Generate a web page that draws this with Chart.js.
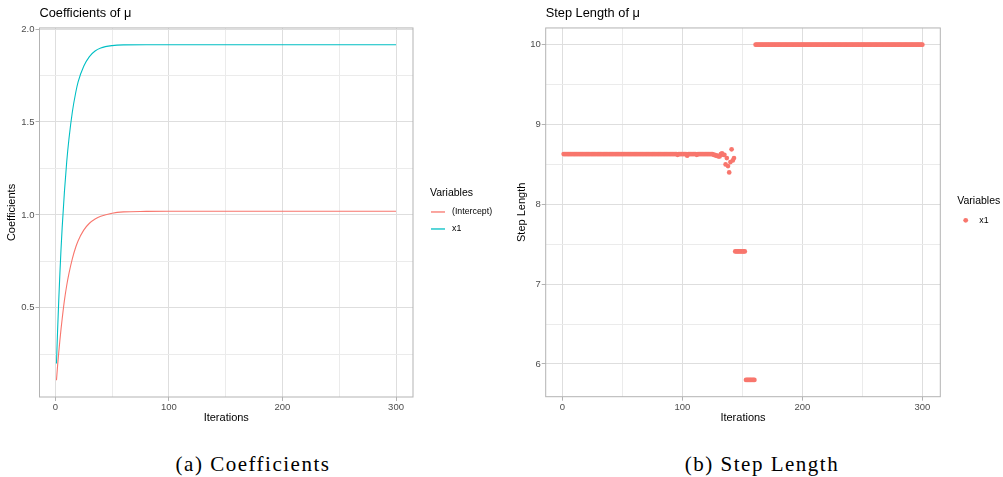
<!DOCTYPE html>
<html>
<head>
<meta charset="utf-8">
<title>Coefficients and Step Length of μ</title>
<script src="https://cdn.jsdelivr.net/npm/chart.js@4.4.1/dist/chart.umd.min.js"></script>
<style>
  body { margin: 0; background: #fff; width: 1003px; height: 477px; overflow: hidden; position: relative; }
  canvas { position: absolute; top: 0; }
  #coefChart { left: 0; }
  #stepChart { left: 500px; }
  .caption { position: absolute; top: 452px; font-family: "Liberation Serif", serif; font-size: 21px; color: #000;
             transform: translateX(-50%); white-space: nowrap; letter-spacing: 1.5px; }
</style>
</head>
<body>
<canvas id="coefChart" width="500" height="430"></canvas>
<canvas id="stepChart" width="503" height="430"></canvas>
<div class="caption" style="left:253px">(a) Coefficients</div>
<div class="caption" style="left:762px">(b) Step Length</div>
<script>
// --- data ---
const coefIter = [1, 2, 3, 4, 5, 6, 8, 10, 12, 15, 18, 20, 25, 30, 35, 40, 50, 60, 80, 100, 150, 200, 250, 300];
const interceptVals = [0.11, 0.19, 0.26, 0.325, 0.385, 0.44, 0.54, 0.62, 0.685, 0.765, 0.827, 0.86, 0.918, 0.955, 0.978, 0.993, 1.009, 1.016, 1.019, 1.02, 1.02, 1.02, 1.02, 1.02];
const x1Vals = [0.20, 0.38, 0.54, 0.685, 0.815, 0.93, 1.125, 1.285, 1.41, 1.555, 1.66, 1.715, 1.80, 1.852, 1.882, 1.898, 1.911, 1.915, 1.916, 1.916, 1.916, 1.916, 1.916, 1.916];

// step length of x1, one value per iteration 1..300
const stepVals = [
  8.63, 8.63, 8.63, 8.63, 8.63, 8.63, 8.63, 8.63, 8.63, 8.63, 8.63, 8.63, 8.63, 8.63, 8.63, 8.63, 8.63, 8.63, 8.63, 8.63,
  8.63, 8.63, 8.63, 8.63, 8.63, 8.63, 8.63, 8.63, 8.63, 8.63, 8.63, 8.63, 8.63, 8.63, 8.63, 8.63, 8.63, 8.63, 8.63, 8.63,
  8.63, 8.63, 8.63, 8.63, 8.63, 8.63, 8.63, 8.63, 8.63, 8.63, 8.63, 8.63, 8.63, 8.63, 8.63, 8.63, 8.63, 8.63, 8.63, 8.63,
  8.63, 8.63, 8.63, 8.63, 8.63, 8.63, 8.63, 8.63, 8.63, 8.63, 8.63, 8.63, 8.63, 8.63, 8.63, 8.63, 8.63, 8.63, 8.63, 8.63,
  8.63, 8.63, 8.63, 8.63, 8.63, 8.63, 8.63, 8.63, 8.63, 8.63, 8.63, 8.63, 8.63, 8.63, 8.63, 8.62, 8.63, 8.63, 8.63, 8.63,
  8.63, 8.63, 8.63, 8.61, 8.63, 8.63, 8.63, 8.63, 8.63, 8.63, 8.63, 8.62, 8.63, 8.63, 8.63, 8.63, 8.63, 8.63, 8.63, 8.63,
  8.63, 8.63, 8.63, 8.63, 8.63, 8.62, 8.62, 8.61, 8.61, 8.60, 8.60, 8.63, 8.64, 8.62, 8.62, 8.50, 8.58, 8.48, 8.40, 8.53,
  8.69, 8.55, 8.58, 7.41, 7.41, 7.41, 7.41, 7.41, 7.41, 7.41, 7.41, 7.41, 5.80, 5.80, 5.80, 5.80, 5.80, 5.80, 5.80, 5.80,
  10, 10, 10, 10, 10, 10, 10, 10, 10, 10, 10, 10, 10, 10, 10, 10, 10, 10, 10, 10,
  10, 10, 10, 10, 10, 10, 10, 10, 10, 10, 10, 10, 10, 10, 10, 10, 10, 10, 10, 10,
  10, 10, 10, 10, 10, 10, 10, 10, 10, 10, 10, 10, 10, 10, 10, 10, 10, 10, 10, 10,
  10, 10, 10, 10, 10, 10, 10, 10, 10, 10, 10, 10, 10, 10, 10, 10, 10, 10, 10, 10,
  10, 10, 10, 10, 10, 10, 10, 10, 10, 10, 10, 10, 10, 10, 10, 10, 10, 10, 10, 10,
  10, 10, 10, 10, 10, 10, 10, 10, 10, 10, 10, 10, 10, 10, 10, 10, 10, 10, 10, 10,
  10, 10, 10, 10, 10, 10, 10, 10, 10, 10, 10, 10, 10, 10, 10, 10, 10, 10, 10, 10
];

// tick positions
const iterMajor = [0, 100, 200, 300];
const iterMinor = [50, 150, 250];
const coefMajor = [0.5, 1.0, 1.5, 2.0];
const coefMinor = [0.25, 0.75, 1.25, 1.75];
const stepMajor = [6, 7, 8, 9, 10];
const stepMinor = [6.5, 7.5, 8.5, 9.5];

const RED = '#F8766D', CYAN = '#00BFC4';
const SANS = '"Liberation Sans", Arial, sans-serif';

// ggplot-ish axis: major + minor grid, labels only on majors
function axis(o) {
  return {
    type: 'linear', min: o.min, max: o.max,
    afterBuildTicks: s => { s.ticks = o.major.concat(o.minor).sort((a, b) => a - b).map(v => ({ value: v })); },
    afterFit: s => { if (o.width) s.width = o.width; if (o.height) s.height = o.height; },
    border: { display: false },
    grid: {
      color: c => o.major.includes(c.tick.value) ? '#dedede' : '#ebebeb',
      tickColor: c => o.major.includes(c.tick.value) ? '#b3b3b3' : 'rgba(0,0,0,0)',
      tickLength: 4
    },
    ticks: {
      autoSkip: false, maxRotation: 0, padding: 1, color: '#4d4d4d',
      font: { family: SANS, size: 9.5 },
      callback: v => o.major.includes(v) ? o.fmt(v) : ''
    },
    title: { display: true, text: o.label, color: '#000', font: { family: SANS, size: 11 }, padding: o.titlePad }
  };
}

const panelBorder = {
  id: 'panelBorder',
  afterDatasetsDraw(chart) {
    const { ctx, chartArea: a } = chart;
    ctx.save();
    ctx.strokeStyle = '#b3b3b3';
    ctx.lineWidth = 1;
    ctx.strokeRect(a.left, a.top, a.right - a.left, a.bottom - a.top);
    ctx.restore();
  }
};

// legend to the right of the panel, like ggplot's guide
const sideLegend = {
  id: 'sideLegend',
  afterDraw(chart, args, opts) {
    const { ctx, chartArea: a } = chart;
    const sets = chart.data.datasets;
    const x = a.right + 17;
    let y = (a.top + a.bottom) / 2 - (20 + (sets.length - 1) * 17) / 2 - 1;
    ctx.save();
    ctx.textBaseline = 'middle';
    ctx.textAlign = 'left';
    ctx.fillStyle = '#000';
    ctx.font = '10.5px ' + SANS;
    ctx.fillText(opts.title, x, y);
    y += 19;
    ctx.font = '8.8px ' + SANS;
    sets.forEach(ds => {
      if (opts.key === 'line') {
        ctx.strokeStyle = ds.borderColor;
        ctx.lineWidth = 1.3;
        ctx.beginPath(); ctx.moveTo(x + 1, y); ctx.lineTo(x + 15, y); ctx.stroke();
      } else {
        ctx.fillStyle = ds.backgroundColor;
        ctx.beginPath(); ctx.arc(x + 8.4, y, 2.4, 0, Math.PI * 2); ctx.fill();
      }
      ctx.fillStyle = '#000';
      ctx.fillText(ds.label, x + 22, y);
      y += 17;
    });
    ctx.restore();
  }
};

function titleOpts(text) {
  return {
    display: true, text, align: 'start', fullSize: false, color: '#000',
    font: { family: SANS, size: 12.8, weight: 'normal' },
    padding: { top: 5.6, bottom: 7 }
  };
}

new Chart(document.getElementById('coefChart'), {
  type: 'line',
  data: {
    datasets: [
      { label: '(Intercept)', data: coefIter.map((x, i) => ({ x, y: interceptVals[i] })),
        borderColor: RED, borderWidth: 1.1, pointRadius: 0, cubicInterpolationMode: 'monotone' },
      { label: 'x1', data: coefIter.map((x, i) => ({ x, y: x1Vals[i] })),
        borderColor: CYAN, borderWidth: 1.1, pointRadius: 0, cubicInterpolationMode: 'monotone' }
    ]
  },
  options: {
    responsive: false, animation: false,
    layout: { padding: { right: 87 } },
    scales: {
      x: axis({ min: -13.95, max: 314.95, major: iterMajor, minor: iterMinor, label: 'Iterations',
                fmt: v => String(v), height: 33, titlePad: { top: 0, bottom: 5 } }),
      y: axis({ min: 0.02, max: 2.006, major: coefMajor, minor: coefMinor, label: 'Coefficients',
                fmt: v => v.toFixed(1), width: 39.5, titlePad: { top: 5.7, bottom: 0 } })
    },
    plugins: {
      legend: { display: false },
      tooltip: { enabled: false },
      title: titleOpts('Coefficients of μ'),
      sideLegend: { title: 'Variables', key: 'line' }
    }
  },
  plugins: [panelBorder, sideLegend]
});

new Chart(document.getElementById('stepChart'), {
  type: 'scatter',
  data: {
    datasets: [
      { label: 'x1', data: stepVals.map((y, i) => ({ x: i + 1, y })),
        backgroundColor: RED, borderWidth: 0, pointRadius: 2.35 }
    ]
  },
  options: {
    responsive: false, animation: false,
    layout: { padding: { right: 62.7 } },
    scales: {
      x: axis({ min: -13.95, max: 314.95, major: iterMajor, minor: iterMinor, label: 'Iterations',
                fmt: v => String(v), height: 33.3, titlePad: { top: 0, bottom: 5 } }),
      y: axis({ min: 5.59, max: 10.21, major: stepMajor, minor: stepMinor, label: 'Step Length',
                fmt: v => String(v), width: 45.7, titlePad: { top: 15.1, bottom: 0 } })
    },
    plugins: {
      legend: { display: false },
      tooltip: { enabled: false },
      title: titleOpts('Step Length of μ'),
      sideLegend: { title: 'Variables', key: 'point' }
    }
  },
  plugins: [panelBorder, sideLegend]
});
</script>
</body>
</html>
